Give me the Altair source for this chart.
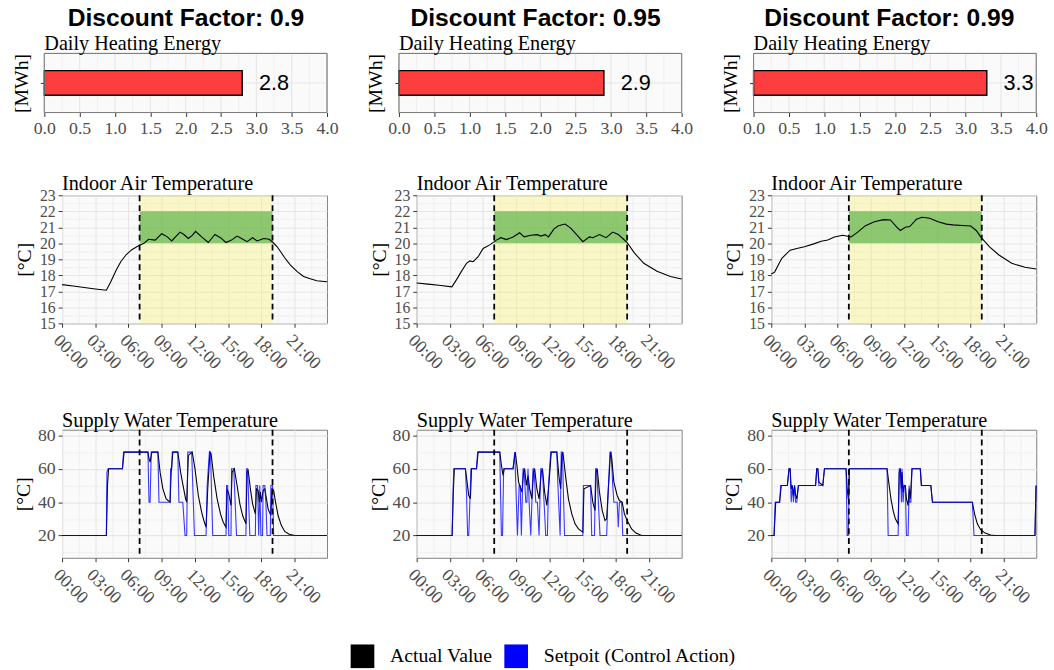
import altair as alt
import pandas as pd

SERIF = "Liberation Serif"
SANS = "Liberation Sans"
GRID = "#E6E6E6"
BG = "#FAFAFA"
BORDER = "#7F7F7F"
TICKLAB = "#4D4D4D"

# ---------------- data ----------------
factor_titles = ["Discount Factor: 0.9", "Discount Factor: 0.95", "Discount Factor: 0.99"]
daily_energy = [2.8, 2.9, 3.3]

occupied_start = [7]
occupied_end = [19]
comfort_low = [20]
comfort_high = [22]

hour_ticks = [0, 1.5, 3, 4.5, 6, 7.5, 9, 10.5, 12, 13.5, 15, 16.5, 18, 19.5, 21, 22.5]
energy_limits = [0, 4]
energy_major = [0, 0.5, 1.0, 1.5, 2.0, 2.5, 3.0, 3.5, 4.0]
energy_minor = [0.25, 0.75, 1.25, 1.75, 2.25, 2.75, 3.25, 3.75]
temp_ticks = [15, 15.5, 16, 16.5, 17, 17.5, 18, 18.5, 19, 19.5, 20, 20.5,
              21, 21.5, 22, 22.5, 23]
supply_ticks = [10, 20, 30, 40, 50, 60, 70, 80]
series_names = ["Actual Value", "Setpoit (Control Action)"]

# indoor air temperature
temp_h_1 = [0, 1.0, 2.0, 3.0, 4.0, 4.4, 4.87, 5.3, 5.8, 6.3, 6.9, 7.4, 7.8, 8.4, 9.0, 9.5,
            9.9, 10.3, 10.65, 11.0, 11.4, 11.75, 12.05, 12.6, 13.2, 13.5, 13.8, 14.3, 14.8,
            15.3, 15.8, 16.2, 16.7, 17.2, 17.6, 18.2, 18.7, 19.05, 19.4, 19.7, 20.1, 20.6,
            21.2, 21.8, 22.4, 23.0, 23.92]
temp_v_1 = [17.42, 17.33, 17.24, 17.15, 17.07, 17.6, 18.3, 18.85, 19.3, 19.6, 19.85, 20.0,
            20.25, 20.2, 20.6, 20.4, 20.15, 20.45, 20.7, 20.55, 20.3, 20.5, 20.75, 20.4,
            20.05, 20.3, 20.55, 20.35, 20.05, 20.2, 20.45, 20.3, 20.1, 20.35, 20.15, 20.3,
            20.25, 20.05, 19.8, 19.5, 19.1, 18.65, 18.25, 17.93, 17.78, 17.66, 17.6]

temp_h_2 = [0, 1.0, 2.0, 3.18, 3.6, 4.0, 4.5, 4.8, 5.1, 5.55, 6.0, 6.6, 7.2, 7.6, 8.1, 8.7,
            9.3, 9.7, 10.3, 10.9, 11.2, 11.6, 11.9, 12.4, 12.8, 13.4, 13.9, 14.5, 15.0,
            15.6, 15.9, 16.5, 17.1, 17.7, 18.2, 18.6, 19.0, 19.65, 20.5, 21.7, 22.9, 23.92]
temp_v_2 = [17.52, 17.45, 17.38, 17.28, 17.73, 18.2, 18.75, 18.9, 18.85, 19.16, 19.68,
            19.9, 20.2, 20.35, 20.23, 20.4, 20.66, 20.4, 20.5, 20.54, 20.45, 20.54, 20.4,
            20.9, 21.1, 21.2, 20.95, 20.5, 20.1, 20.4, 20.35, 20.55, 20.35, 20.7, 20.55,
            20.3, 20.05, 19.4, 18.75, 18.25, 17.93, 17.77]

temp_h_3 = [0, 0.3, 0.95, 1.7, 2.3, 3.0, 3.9, 4.5, 5.1, 5.7, 6.45, 6.9, 7.2, 7.8, 8.5, 9.3,
            10.15, 10.75, 11.35, 11.65, 12.1, 12.5, 13.1, 13.6, 14.3, 15.06, 15.8, 16.4,
            17.6, 18.0, 18.5, 18.9, 19.7, 20.55, 21.7, 22.9, 23.92]
temp_v_3 = [18.08, 18.2, 19.06, 19.57, 19.68, 19.78, 19.98, 20.13, 20.2, 20.4, 20.5, 20.44,
            20.4, 20.7, 21.1, 21.35, 21.48, 21.46, 21.0, 20.8, 21.0, 21.05, 21.5, 21.63,
            21.57, 21.35, 21.2, 21.15, 21.1, 21.08, 20.8, 20.4, 19.78, 19.27, 18.75, 18.5,
            18.4]

# supply water temperature: setpoint (control action) and actual value
sp_h_1 = [0, 4.0, 4.05, 4.15, 5.45, 5.55, 7.75, 7.85, 7.95, 8.05, 8.65, 8.75, 9.75, 9.8,
          9.9, 9.95, 10.45, 10.55, 10.9, 11.0, 11.1, 11.25, 11.35, 11.7, 11.95, 13.0, 13.1,
          13.3, 13.4, 13.6, 14.8, 14.85, 14.95, 15.05, 15.25, 15.3, 15.5, 15.75, 16.6,
          16.65, 16.75, 16.95, 17.45, 17.5, 17.65, 17.75, 17.85, 17.95, 18.1, 18.15, 18.3,
          18.4, 18.5, 18.8, 18.85, 19.0, 19.1, 23.92]
sp_v_1 = [20, 20, 58, 60, 60, 70, 70, 40, 40, 70, 70, 40, 40, 60,
          60, 70, 70, 40, 40, 30, 20, 20, 70, 70, 20, 20, 50,
          70, 70, 20, 20, 50, 50, 20, 20, 60, 60, 20, 20,
          60, 60, 20, 20, 50, 50, 20, 50, 20, 20, 50, 50,
          40, 20, 20, 50, 50, 20, 20]
act_h_1 = [0, 4.0, 4.1, 4.2, 5.45, 5.6, 7.75, 7.85, 7.95, 8.1, 8.65, 8.85, 9.1, 9.4, 9.75,
           9.85, 10.0, 10.45, 10.7, 10.95, 11.15, 11.25, 11.4, 11.75, 12.0, 12.3, 12.6,
           12.8, 13.0, 13.15, 13.35, 13.45, 13.7, 14.0, 14.3, 14.55, 14.8, 14.9, 15.05,
           15.25, 15.35, 15.55, 15.8, 16.05, 16.3, 16.6, 16.7, 16.8, 17.0, 17.2, 17.45,
           17.55, 17.7, 17.8, 17.9, 18.0, 18.15, 18.3, 18.45, 18.6, 18.85, 18.95, 19.1,
           19.3, 19.5, 19.8, 20.1, 20.5, 21.0, 23.92]
act_v_1 = [20, 20, 50, 60, 60, 70, 70, 66, 64, 70, 70, 58, 48, 42, 40,
           58, 70, 70, 58, 49, 42, 40, 68, 70, 60, 44, 34,
           29, 25, 48, 70, 69, 55, 42, 33, 28, 25, 48, 45,
           38, 58, 60, 50, 39, 32, 27, 58, 59, 48, 39, 33,
           48, 47, 40, 46, 40, 47, 48, 42, 36, 32, 48, 47,
           39, 32, 26, 22.5, 20.8, 20, 20]

sp_h_2 = [0, 3.2, 3.3, 3.35, 4.4, 4.5, 4.6, 4.7, 4.8, 4.9, 5.4, 5.5, 7.5, 7.65, 7.75, 7.85,
          8.7, 8.85, 8.95, 9.1, 9.25, 9.35, 9.45, 9.6, 9.7, 9.85, 9.95, 10.05, 10.15, 10.3,
          10.5, 10.6, 10.75, 10.9, 11.05, 11.2, 11.35, 11.5, 11.65, 11.8, 11.9, 12.1, 12.65,
          12.75, 12.95, 13.05, 13.15, 13.35, 15.0, 15.05, 15.7, 15.8, 16.05, 16.15, 16.25,
          16.4, 16.55, 17.15, 17.25, 17.45, 17.55, 17.7, 17.8, 18.1, 18.2, 18.3, 18.5,
          18.6, 23.92]
sp_v_2 = [20, 20, 50, 60, 60, 45, 20, 20, 40, 60, 60, 70, 70, 20, 20, 60,
          60, 70, 50, 20, 50, 50, 20, 60, 60, 40, 40, 60, 40, 20,
          60, 60, 40, 40, 20, 60, 60, 40, 20, 20, 50, 70, 70,
          50, 20, 70, 70, 20, 20, 50, 50, 20, 20, 60, 60,
          40, 20, 20, 40, 70, 70, 50, 40, 40, 25, 40, 40,
          20, 20]
act_h_2 = [0, 3.2, 3.3, 3.4, 4.4, 4.55, 4.7, 4.85, 4.95, 5.4, 5.55, 7.5, 7.65, 7.8, 7.9,
           8.7, 8.9, 9.05, 9.2, 9.3, 9.5, 9.65, 9.75, 9.9, 10.05, 10.2, 10.4, 10.55, 10.65,
           10.85, 11.05, 11.25, 11.35, 11.55, 11.75, 11.9, 12.15, 12.65, 12.85, 13.0, 13.1,
           13.2, 13.45, 13.7, 14.0, 14.3, 14.6, 15.0, 15.1, 15.7, 15.9, 16.1, 16.2, 16.3,
           16.5, 16.75, 17.0, 17.15, 17.3, 17.5, 17.6, 17.8, 18.1, 18.3, 18.55, 18.75, 19.0,
           19.4, 19.8, 20.3, 23.92]
act_v_2 = [20, 20, 45, 60, 60, 52, 44, 42, 60, 60, 70, 70, 62, 56, 60,
           60, 70, 62, 52, 50, 46, 58, 60, 50, 56, 48, 42, 58, 60,
           48, 42, 58, 60, 46, 38, 48, 70, 70, 55, 48, 68,
           70, 55, 42, 33, 27, 24, 22, 48, 50, 40, 35, 58, 60,
           46, 35, 29, 30, 48, 70, 67, 52, 44, 41, 40, 33, 29,
           24, 21.5, 20, 20]

sp_h_3 = [0, 0.25, 0.35, 0.75, 0.85, 1.45, 1.6, 1.7, 1.8, 1.9, 2.0, 2.1, 2.2, 2.3, 2.45,
          4.0, 4.1, 4.2, 4.3, 4.65, 4.8, 6.75, 6.85, 6.95, 7.05, 10.45, 10.55, 11.45, 11.55,
          11.65, 11.75, 11.8, 11.9, 12.0, 12.1, 12.2, 12.35, 12.45, 12.5, 12.6, 12.7, 13.45,
          13.55, 14.4, 14.55, 18.15, 18.3, 23.8, 23.9]
sp_v_3 = [20, 20, 40, 40, 50, 50, 60, 60, 40, 50, 40, 50, 40, 40, 50,
          50, 60, 60, 50, 50, 60, 60, 20, 20, 60, 60, 20, 20, 60,
          60, 40, 60, 40, 50, 50, 20, 20, 50, 40, 40, 60, 60,
          50, 50, 40, 40, 20, 20, 50]
act_h_3 = [0, 0.25, 0.4, 0.75, 0.9, 1.45, 1.6, 1.7, 1.8, 1.9, 2.0, 2.1, 2.2, 2.3, 2.45,
           4.0, 4.1, 4.2, 4.3, 4.65, 4.8, 6.75, 6.85, 6.95, 7.05, 10.45, 10.6, 10.8, 11.0,
           11.2, 11.45, 11.55, 11.65, 11.75, 11.8, 11.9, 12.0, 12.1, 12.2, 12.35, 12.45,
           12.55, 12.7, 13.45, 13.55, 14.4, 14.55, 18.15, 18.35, 18.6, 18.9, 19.3, 19.8,
           20.2, 23.8, 23.9]
act_v_3 = [20, 20, 40, 40, 50, 50, 60, 60, 48, 50, 44, 50, 44, 42, 50,
           50, 60, 60, 52, 50, 60, 60, 48, 42, 60, 60, 52, 42, 35,
           30, 27, 58, 60, 48, 58, 46, 50, 50, 42, 38, 48,
           42, 60, 60, 50, 50, 40, 40, 33, 27, 23.5, 21.5, 20.3,
           20, 20, 50]

temp_h = [temp_h_1, temp_h_2, temp_h_3]
temp_v = [temp_v_1, temp_v_2, temp_v_3]
sp_h = [sp_h_1, sp_h_2, sp_h_3]
sp_v = [sp_v_1, sp_v_2, sp_v_3]
act_h = [act_h_1, act_h_2, act_h_3]
act_v = [act_v_1, act_v_2, act_v_3]

# ---------------- helpers ----------------
def cond(test, a, b):
    return {"condition": {"test": test, "value": a}, "value": b}


def value_axis(values, major, label_expr, angle=0, title=None, size=18, **kw):
    return alt.Axis(
        values=values, labelExpr=label_expr, title=title,
        gridColor=GRID, gridWidth=cond(major, 1.1, 0.55),
        tickOpacity=cond(major, 1, 0), tickSize=4, tickColor="#333333",
        labelFont=SERIF, labelFontSize=size, labelColor=TICKLAB,
        labelOverlap=False, labelFlush=False, labelBound=False,
        labelAngle=angle, domain=False, **kw)


HOUR_MAJOR = "datum.value % 3 == 0"
hour_axis = value_axis(
    hour_ticks, HOUR_MAJOR,
    f"{HOUR_MAJOR} ? ((datum.value < 10 ? '0' : '') + datum.value + ':00') : ''",
    angle=45, labelAlign="left", labelBaseline="top", labelPadding=4)

temp_axis = value_axis(temp_ticks, "datum.value % 1 == 0",
                       "datum.value % 1 == 0 ? datum.value : ''", size=16,
                       title="[°C]", labelPadding=3, titleFont=SERIF,
                       titleFontSize=20, titleFontWeight="normal",
                       titleColor="black", titlePadding=5)
supply_axis = value_axis(supply_ticks, "datum.value % 20 == 0",
                         "datum.value % 20 == 0 ? datum.value : ''",
                         title="[°C]", labelPadding=3, titleFont=SERIF,
                         titleFontSize=20, titleFontWeight="normal",
                         titleColor="black", titlePadding=4)

x_scale = alt.Scale(domain=[0, 23.92], nice=False, zero=False)
temp_scale = alt.Scale(domain=[15, 23], nice=False, zero=False)
supply_scale = alt.Scale(domain=[6.7, 83.4], nice=False, zero=False)

PANEL_W = 269
BAR_EXTRA = 18  # the energy panel reaches further left than the time panels
TITLE_DX = [8, 3, 2]


def panel_title(text, offset=3, dx=0):
    return alt.Title(text, anchor="start", frame="group", font=SERIF, fontSize=20.5,
                     fontWeight="normal", color="black", offset=offset, dx=dx)


legend = alt.Legend(
    title=None, orient="none", legendX=293, legendY=600, direction="horizontal",
    symbolType="square", symbolSize=144, symbolStrokeWidth=12, symbolOpacity=1,
    labelFont=SERIF, labelFontSize=20, labelColor="black", labelOffset=16,
    labelLimit=400, columnPadding=-6, padding=0)


def hx(field):
    return alt.X(field, type="quantitative", scale=x_scale, axis=hour_axis)


def bar_panel(i):
    bx = alt.Scale(domain=energy_limits, nice=False, zero=False,
                   range=[-BAR_EXTRA, PANEL_W])
    x_axis = alt.Axis(values=energy_major, format=".1f", title=None, grid=False,
                      tickSize=4, tickColor="#333333", labelFont=SERIF,
                      labelFontSize=18, labelColor=TICKLAB, labelPadding=3,
                      labelOverlap=False, labelFlush=False, labelBound=False,
                      domain=False)
    y_axis = alt.Axis(title="[MWh]", labels=False, grid=False, tickSize=4,
                      tickColor="#333333", domain=False, bandPosition=0.5,
                      offset=BAR_EXTRA, titleFont=SERIF, titleFontSize=20,
                      titleFontWeight="normal", titleColor="black", titlePadding=9)
    lim = pd.DataFrame({"k": ["E"], "lo": [energy_limits[0]], "hi": [energy_limits[1]]})
    bg = alt.Chart(lim).mark_rect(fill=BG, stroke=BORDER, strokeWidth=1).encode(
        x=alt.X("lo:Q", scale=bx, axis=x_axis), x2="hi:Q")
    gmaj = alt.Chart(pd.DataFrame({"g": energy_major})).mark_rule(
        color=GRID, strokeWidth=1.1).encode(x=alt.X("g:Q", scale=bx, axis=x_axis))
    gmin = alt.Chart(pd.DataFrame({"g": energy_minor})).mark_rule(
        color=GRID, strokeWidth=0.55).encode(x=alt.X("g:Q", scale=bx, axis=x_axis))
    ghor = alt.Chart(lim).mark_rule(color=GRID, strokeWidth=1.1).encode(
        x=alt.X("lo:Q", scale=bx, axis=x_axis), x2="hi:Q",
        y=alt.Y("k:N", axis=y_axis))
    df = pd.DataFrame({"k": ["E"], "v": [daily_energy[i]],
                       "lab": [f"{daily_energy[i]:.1f}"]})
    base = alt.Chart(df).encode(x=alt.X("v:Q", scale=bx, axis=x_axis),
                                y=alt.Y("k:N", axis=y_axis))
    bars = base.mark_bar(size=25, fill="#FE3E3E", stroke="black", strokeWidth=1.4)
    txt = base.mark_text(align="left", baseline="middle", dx=17, font=SANS,
                         fontSize=22, color="black").encode(text="lab:N")
    frame = alt.Chart(lim).mark_rect(fill="transparent", stroke=BORDER,
                                     strokeWidth=1).encode(
        x=alt.X("lo:Q", scale=bx, axis=x_axis), x2="hi:Q")
    return alt.layer(bg, gmin, gmaj, ghor, bars, txt, frame).properties(
        width=PANEL_W, height=60,
        title=panel_title("Daily Heating Energy", offset=-2, dx=-BAR_EXTRA),
        view=alt.ViewBackground(fillOpacity=0, strokeOpacity=0))


def occ_frames():
    occ = pd.DataFrame({"s": occupied_start, "e": occupied_end,
                        "lo": comfort_low, "hi": comfort_high})
    marks = pd.DataFrame({"h": occupied_start + occupied_end})
    return occ, marks


def temp_panel(i):
    occ, marks = occ_frames()
    yellow = alt.Chart(occ).mark_rect(fill="#F7EE55", opacity=0.3).encode(
        x=hx("s"), x2="e:Q")
    green = alt.Chart(occ).mark_rect(fill="#44AA37", opacity=0.6).encode(
        x=hx("s"), x2="e:Q",
        y=alt.Y("lo:Q", scale=temp_scale, axis=temp_axis), y2="hi:Q")
    tdf = pd.DataFrame({"h": temp_h[i], "t": temp_v[i], "i": range(len(temp_h[i]))})
    line = alt.Chart(tdf).mark_line(color="black", strokeWidth=1.1).encode(
        x=hx("h"), y=alt.Y("t:Q", scale=temp_scale, axis=temp_axis), order="i:Q")
    rules = alt.Chart(marks).mark_rule(color="black", strokeDash=[6, 4],
                                       strokeWidth=1.8).encode(x=hx("h"))
    return alt.layer(yellow, green, line, rules).properties(
        width=PANEL_W, height=130,
        title=panel_title("Indoor Air Temperature", offset=-7))


def supply_panel(i):
    _, marks = occ_frames()
    n_a = len(act_h[i])
    n_s = len(sp_h[i])
    names = [series_names[0]] * n_a + [series_names[1]] * n_s
    df = pd.DataFrame({
        "h": list(act_h[i]) + list(sp_h[i]),
        "v": list(act_v[i]) + list(sp_v[i]),
        "series": names,
        "line_kind": names,
        "i": list(range(n_a)) + list(range(n_s)),
    })
    lines = alt.Chart(df).mark_line(strokeWidth=1.1).encode(
        x=hx("h"),
        y=alt.Y("v:Q", scale=supply_scale, axis=supply_axis),
        color=alt.Color("series:N",
                        scale=alt.Scale(domain=series_names, range=["#000000", "#0000FF"]),
                        legend=legend),
        strokeOpacity=alt.StrokeOpacity(
            "line_kind:N", scale=alt.Scale(domain=series_names, range=[1, 0.78]),
            legend=None),
        order="i:Q")
    rules = alt.Chart(marks).mark_rule(color="black", strokeDash=[6, 4],
                                       strokeWidth=1.8).encode(x=hx("h"))
    return alt.layer(lines, rules).properties(
        width=PANEL_W, height=130,
        title=panel_title("Supply Water Temperature", offset=-5))


columns = []
for i in range(3):
    col = alt.concat(bar_panel(i), temp_panel(i), supply_panel(i), columns=1,
                     align="none", spacing=37,
                     title=alt.Title(factor_titles[i], font=SANS, fontSize=25,
                                     fontWeight="bold", color="black", anchor="middle",
                                     offset=4, dx=TITLE_DX[i]))
    columns.append(col)

chart = alt.hconcat(*columns, spacing=21).properties(
    padding={"left": 11, "top": 0, "right": 0, "bottom": 0}
).configure_view(fill=BG, stroke=BORDER, strokeWidth=1)

chart.save("out.html", embed_options={"renderer": "svg", "actions": False})
